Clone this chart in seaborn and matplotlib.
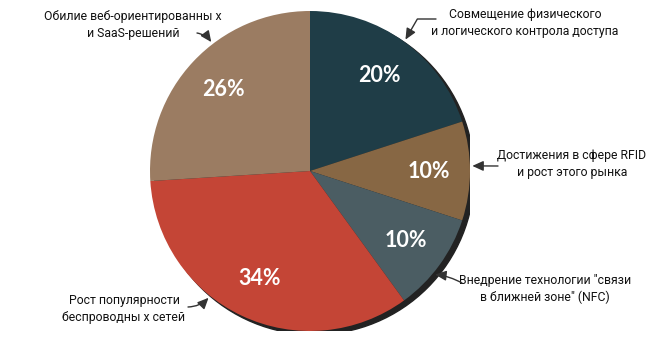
import numpy as np
import matplotlib
matplotlib.use("Agg")
import matplotlib.pyplot as plt
from matplotlib.patches import Circle
import seaborn as sns

categories = [
    "Совмещение физического\nи логического контрола доступа",
    "Достижения в сфере RFID\nи рост этого рынка",
    "Внедрение технологии \"связи\nв ближней зоне\" (NFC)",
    "Рост популярности\nбеспроводны х сетей",
    "Обилие веб-ориентированны х\nи SaaS-решений",
]
values = [20, 10, 10, 34, 26]
colors = ["#1f3d47", "#876744", "#4b5d63", "#c44536", "#9b7c62"]

sns.set_theme(style="white")
plt.rcParams["font.family"] = ["Roboto", "DejaVu Sans"]

W, H = 650, 350
fig = plt.figure(figsize=(6.5, 3.5), dpi=100)
ax = fig.add_axes([150 / W, 19 / H, 320 / W, 320 / H])

# shadow rim
ax.add_patch(Circle((0.027, -0.023), 1.0, color="#222222", zorder=0))

wedges, texts, autotexts = ax.pie(
    values, colors=colors, startangle=90, counterclock=False,
    autopct=lambda p: f"{p:.0f}%", pctdistance=0.74, radius=1.0,
    wedgeprops=dict(linewidth=0),
    textprops=dict(color="white", fontsize=15.5, fontweight="bold", family=["Lato", "DejaVu Sans"]),
)
ax.set_xlim(-1, 1)
ax.set_ylim(-1, 1)
ax.set_aspect("equal")
ax.axis("off")
for w in wedges:
    w.set_zorder(1)
for t in autotexts:
    t.set_zorder(3)

def fig_frac(px, py):
    return (px / W, 1 - py / H)

label_pos = [(525, 23), (572, 164), (545, 289), (124, 309), (133, 25)]
arrow_start = [(436, 19), (498, 166), (462, 283), (188, 307), (197, 33)]
tip_frac = [0.5, 0.45, 0.6, 0.61, 0.6]
conn = ["angle,angleA=0,angleB=60,rad=0", "arc3,rad=0", "arc3,rad=0.1",
        "arc3,rad=0.2", "arc3,rad=-0.2"]
for w, lab, lp, sp, f, cs in zip(wedges, categories, label_pos, arrow_start, tip_frac, conn):
    ax.text(*fig_frac(*lp), lab, transform=fig.transFigure, ha="center", va="center",
            fontsize=8.8, color="#111111", linespacing=1.35, zorder=5)
    th = np.deg2rad(w.theta2 - f * (w.theta2 - w.theta1))
    xy = (1.015 * np.cos(th), 1.015 * np.sin(th))
    ax.annotate(
        "", xy=xy, xycoords="data",
        xytext=fig_frac(*sp), textcoords="figure fraction",
        arrowprops=dict(arrowstyle="-|>,head_length=0.55,head_width=0.25", color="#333333",
                        lw=1.0, connectionstyle=cs, shrinkA=0, shrinkB=0),
        zorder=5, annotation_clip=False,
    )

fig.savefig("out.png", dpi=100)
